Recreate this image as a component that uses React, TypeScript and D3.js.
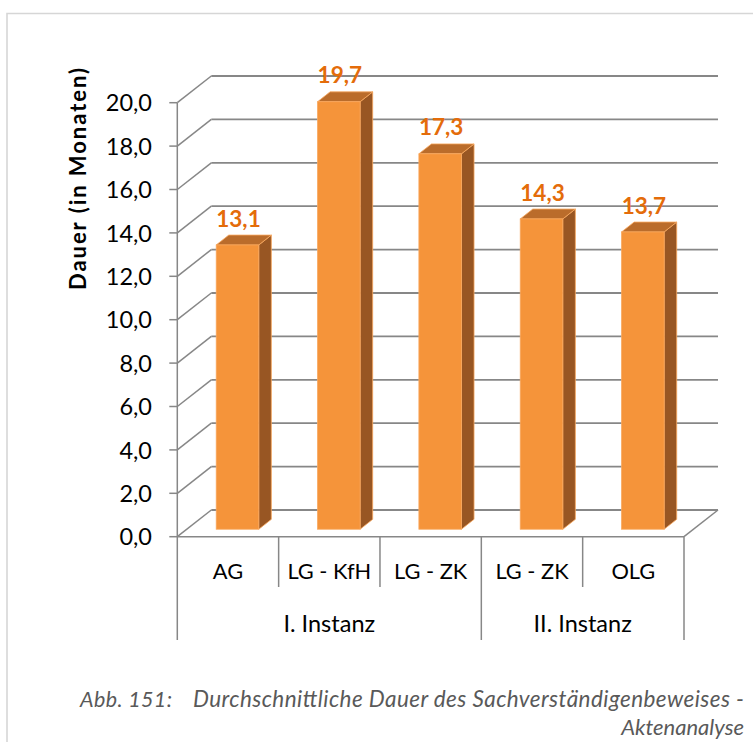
import React from "react";
import * as d3 from "d3";

const categories = ["AG", "LG - KfH", "LG - ZK", "LG - ZK", "OLG"];
const values = [13.1, 19.7, 17.3, 14.3, 13.7];
const valueLabels = ["13,1", "19,7", "17,3", "14,3", "13,7"];
const groups = [
  { label: "I. Instanz", start: 0, end: 3 },
  { label: "II. Instanz", start: 3, end: 5 },
];
const yTicks = [0, 2, 4, 6, 8, 10, 12, 14, 16, 18, 20];
const yTitle = "Dauer (in Monaten)";
const captionPrefix = "Abb. 151:";
const captionLine1 = "Durchschnittliche Dauer des Sachverständigenbeweises -";
const captionLine2 = "Aktenanalyse";

const W = 753;
const H = 742;
const FONT = "Lato, 'Open Sans', sans-serif";

export default function App() {
  const x0 = 177.3;
  const x1 = 684;
  const y = d3.scaleLinear().domain([0, 20]).range([536.7, 102.7]);
  const x = d3
    .scaleBand<number>()
    .domain(categories.map((_, i) => i))
    .range([x0, x1])
    .paddingInner(0)
    .paddingOuter(0);
  const DX = 34;
  const DY = -26.7;
  const fFront = 0.28;
  const fDepth = 0.37;
  const barW = x.bandwidth() * 0.42;
  const gridColor = "#878787";
  const backX0 = x0 + DX;
  const backX1 = x1 + DX;

  const front = "#F5943A";
  const top = "#BA6C2B";
  const side = "#985623";
  const edge = "#F9A85E";

  return (
    <svg
      width={W}
      height={H}
      style={{ position: "absolute", left: 0, top: 0, background: "#fff" }}
      fontFamily={FONT}
    >
      {/* outer frame */}
      <path d={`M7,${H + 5} L7,13.5 L${W + 5},13.5`} fill="none" stroke="#d6d6d6" strokeWidth={1.6} />

      {/* back wall gridlines + side wall diagonals */}
      {yTicks.map((t) => {
        const yf = y(t);
        return (
          <g key={"g" + t}>
            <line x1={backX0} x2={backX1} y1={yf + DY} y2={yf + DY} stroke={gridColor} strokeWidth={1.8} />
            <line x1={x0} y1={yf} x2={backX0} y2={yf + DY} stroke={gridColor} strokeWidth={1.5} />
            <line x1={x0 - 8} x2={x0} y1={yf} y2={yf} stroke={gridColor} strokeWidth={1.5} />
            <text x={152} y={yf} dy="0.37em" textAnchor="end" fontSize={23.5} fill="#000">
              {t.toFixed(1).replace(".", ",")}
            </text>
          </g>
        );
      })}
      {/* floor right edge */}
      <line x1={x1} y1={y(0)} x2={backX1} y2={y(0) + DY} stroke={gridColor} strokeWidth={1.5} />
      {/* front axes */}
      <line x1={x0} x2={x0} y1={y(20)} y2={640} stroke={gridColor} strokeWidth={1.5} />
      <line x1={x0} x2={x1} y1={y(0)} y2={y(0)} stroke={gridColor} strokeWidth={1.5} />

      {/* bars */}
      {values.map((v, i) => {
        const bx = (x(i) as number) + (x.bandwidth() - barW) / 2 + DX * fFront;
        const yb = y(0) + DY * fFront;
        const yt = y(v) + DY * fFront;
        const ddx = DX * fDepth;
        const ddy = DY * fDepth;
        const bx2 = bx + barW;
        return (
          <g key={"b" + i}>
            <path
              d={`M${bx2},${yt} L${bx2 + ddx},${yt + ddy} L${bx2 + ddx},${yb + ddy} L${bx2},${yb} Z`}
              fill={side}
              stroke={edge}
              strokeWidth={0.8}
              strokeLinejoin="round"
            />
            <path
              d={`M${bx},${yt} L${bx2},${yt} L${bx2 + ddx},${yt + ddy} L${bx + ddx},${yt + ddy} Z`}
              fill={top}
              stroke={edge}
              strokeWidth={0.8}
              strokeLinejoin="round"
            />
            <rect x={bx} y={yt} width={barW} height={yb - yt} fill={front} stroke={edge} strokeWidth={0.8} />
            <text
              x={bx + barW / 2 + 1}
              y={yt + ddy - 8.5}
              textAnchor="middle"
              fontSize={22.5}
              fontWeight="bold"
              fill="#E46C0A"
            >
              {valueLabels[i]}
            </text>
          </g>
        );
      })}

      {/* category separators and labels */}
      {categories.map((c, i) => {
        const xs = x(i) as number;
        return (
          <g key={"c" + i}>
            {i > 0 && !groups.some((g) => g.start === i) && (
              <line x1={xs} x2={xs} y1={y(0)} y2={587} stroke={gridColor} strokeWidth={1.5} />
            )}
            <text x={xs + x.bandwidth() / 2} y={579} textAnchor="middle" fontSize={21.8} fill="#000">
              {c}
            </text>
          </g>
        );
      })}
      {groups.map((g, gi) => {
        const xs = x(g.start) as number;
        const xe = g.end >= categories.length ? x1 : (x(g.end) as number);
        return (
          <g key={"grp" + gi}>
            <line x1={xe} x2={xe} y1={y(0)} y2={640} stroke={gridColor} strokeWidth={1.5} />
            <text x={(xs + xe) / 2} y={631.5} textAnchor="middle" fontSize={23.5} fill="#000">
              {g.label}
            </text>
          </g>
        );
      })}

      {/* y-axis title */}
      <text
        transform={`translate(85.5,179) rotate(-90)`}
        textAnchor="middle"
        fontSize={22}
        fontWeight="bold"
        fill="#000"
        textLength={222}
        lengthAdjust="spacing"
      >
        {yTitle}
      </text>

      {/* caption */}
      <text x={80} y={706.5} fontSize={21.5} fontStyle="italic" fill="#595959" textLength={92} lengthAdjust="spacing">
        {captionPrefix}
      </text>
      <text
        x={193}
        y={706.5}
        fontSize={22.5}
        fontStyle="italic"
        fill="#595959"
        textLength={551}
        lengthAdjust="spacing"
      >
        {captionLine1}
      </text>
      <text x={744} y={735} textAnchor="end" fontSize={22} fontStyle="italic" fill="#595959">
        {captionLine2}
      </text>
    </svg>
  );
}
